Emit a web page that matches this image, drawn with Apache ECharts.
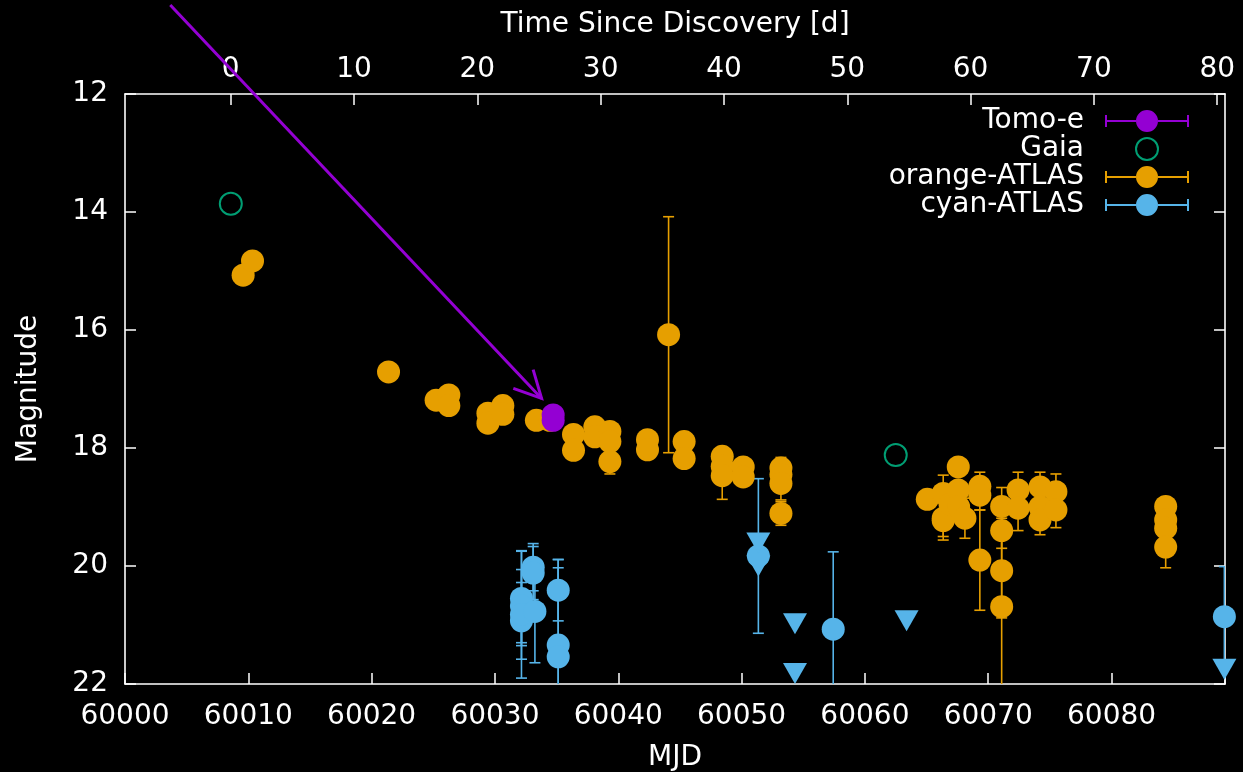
<!DOCTYPE html>
<html><head><meta charset="utf-8">
<script src="https://cdn.jsdelivr.net/npm/echarts@6/dist/echarts.min.js"></script>
<style>html,body{margin:0;padding:0;background:#000}#c{width:1243px;height:772px}</style>
</head><body><div id="c"></div><script>
// ---- axes ----
const DISCOVERY_MJD = 60008.57;
const MJD_MIN = 60000, MJD_MAX = 60089.2, MJD_STEP = 10;
const MAG_MIN = 12, MAG_MAX = 22, MAG_STEP = 2;
const TOP_TICKS = [0, 10, 20, 30, 40, 50, 60, 70, 80];

// ---- data: [MJD, magnitude, error] ----
const tomoE = [[60034.72, 17.44, 0.03], [60034.72, 17.53, 0.03]];
const gaia = [[60008.58, 13.86], [60062.5, 18.12]];
const orangeATLAS = [
  [60009.58, 15.07, 0.05], [60010.34, 14.83, 0.05], [60021.37, 16.71, 0.05],
  [60025.23, 17.19, 0.05], [60026.26, 17.10, 0.05], [60026.26, 17.28, 0.05],
  [60029.43, 17.41, 0.06], [60029.43, 17.58, 0.06], [60030.64, 17.28, 0.06], [60030.64, 17.43, 0.06],
  [60033.36, 17.53, 0.07], [60034.45, 17.53, 0.07],
  [60036.37, 17.77, 0.08], [60036.37, 18.04, 0.08],
  [60038.10, 17.64, 0.08], [60038.10, 17.81, 0.08],
  [60039.32, 17.72, 0.08], [60039.32, 17.89, 0.08], [60039.32, 18.23, 0.21],
  [60042.37, 17.86, 0.10], [60042.37, 18.03, 0.10],
  [60044.08, 16.08, 2.00],
  [60045.34, 17.89, 0.10], [60045.34, 18.18, 0.10],
  [60048.43, 18.14, 0.12], [60048.43, 18.31, 0.12], [60048.43, 18.47, 0.40],
  [60050.13, 18.32, 0.12], [60050.13, 18.49, 0.12],
  [60053.19, 18.34, 0.18], [60053.19, 18.45, 0.12], [60053.19, 18.60, 0.28], [60053.19, 19.11, 0.20],
  [60065.06, 18.87, 0.10],
  [60066.35, 18.77, 0.31], [60066.35, 19.19, 0.31], [60066.35, 19.23, 0.33],
  [60066.90, 18.95, 0.20], [60067.57, 18.32, 0.10], [60067.57, 18.71, 0.10], [60067.60, 19.00, 0.20],
  [60068.11, 19.19, 0.34],
  [60069.32, 18.65, 0.24], [60069.32, 18.80, 0.25], [60069.32, 19.90, 0.85],
  [60071.09, 18.99, 0.32], [60071.09, 19.40, 0.30], [60071.09, 20.08, 0.80], [60071.09, 20.69, 1.50],
  [60072.42, 18.71, 0.30], [60072.42, 19.02, 0.38],
  [60074.20, 18.66, 0.25], [60074.20, 19.00, 0.20], [60074.20, 19.22, 0.25],
  [60075.49, 18.74, 0.30], [60075.49, 19.05, 0.30],
  [60084.39, 18.99, 0.15], [60084.39, 19.22, 0.15], [60084.39, 19.36, 0.15], [60084.39, 19.68, 0.35]
];
const cyanATLAS = [
  [60032.15, 20.55, 0.80], [60032.15, 20.68, 0.62], [60032.15, 20.93, 0.65], [60032.15, 20.82, 1.08],
  [60033.10, 20.02, 0.40], [60033.10, 20.12, 0.45], [60033.24, 20.77, 0.87],
  [60035.13, 20.41, 0.52], [60035.13, 21.34, 1.31], [60035.13, 21.54, 1.65],
  [60051.36, 19.83, 1.31], [60057.43, 21.07, 1.31], [60089.15, 20.86, 0.85]
];
const cyanLimits = [
  [60051.36, 19.61], [60051.36, 20.00], [60054.33, 20.98], [60054.33, 21.82],
  [60063.38, 20.93], [60089.15, 21.75]
];
const arrowLine = [[60003.67, 10.49, 60033.78, 17.16]];

// ---- style ----
const FONT = 'DejaVu Sans';
const FS = 28;
const C_PURPLE = '#9400D3', C_GREEN = '#009E73', C_ORANGE = '#E69F00', C_CYAN = '#56B4E9';
const WHITE = '#ffffff';
const ERR_ICON = 'path://M0,10H31V12H0Z M53,10H84V12H53Z M0,5H2V17H0Z M82,5H84V17H82Z M31,11A11,11 0 1 0 53,11A11,11 0 1 0 31,11Z';

function errSeries(name, data, color, z) {
  return {
    type: 'custom', name: name, data: data, z: z, clip: true, silent: true,
    encode: { x: 0, y: 1 },
    renderItem: function (params, api) {
      const x = api.value(0), y = api.value(1), e = api.value(2);
      const lo = api.coord([x, y - e]), hi = api.coord([x, y + e]);
      const hw = 5.5;
      const st = { stroke: color, lineWidth: 1.6 };
      return { type: 'group', children: [
        { type: 'line', shape: { x1: lo[0], y1: lo[1], x2: hi[0], y2: hi[1] }, style: st },
        { type: 'line', shape: { x1: lo[0] - hw, y1: lo[1], x2: lo[0] + hw, y2: lo[1] }, style: st },
        { type: 'line', shape: { x1: hi[0] - hw, y1: hi[1], x2: hi[0] + hw, y2: hi[1] }, style: st }
      ]};
    }
  };
}

const axisCommon = {
  axisLine: { show: true, onZero: false, lineStyle: { color: WHITE, width: 1.6 } },
  axisTick: { show: true, inside: true, length: 11, lineStyle: { color: WHITE, width: 1.5 } },
  splitLine: { show: false },
  nameTextStyle: { color: WHITE, fontSize: FS, fontFamily: FONT }
};

const chart = echarts.init(document.getElementById('c'), null, { renderer: 'canvas' });
chart.setOption({
  backgroundColor: '#000000',
  animation: false,
  grid: { left: 125, right: 18, top: 94, bottom: 88, containLabel: false, outerBoundsMode: 'none' },
  legend: {
    orient: 'vertical', right: 49, top: 102, align: 'right',
    itemWidth: 84, itemHeight: 22, itemGap: 0,
    textStyle: { color: WHITE, fontSize: FS, fontFamily: FONT, lineHeight: 28, padding: [0, 16, 0, 0] },
    data: [
      { name: 'Tomo-e', icon: ERR_ICON, itemStyle: { borderWidth: 0 } },
      { name: 'Gaia', icon: 'circle', itemStyle: { color: 'rgba(0,0,0,0)', borderColor: C_GREEN, borderWidth: 2 } },
      { name: 'orange-ATLAS', icon: ERR_ICON, itemStyle: { borderWidth: 0 } },
      { name: 'cyan-ATLAS', icon: ERR_ICON, itemStyle: { borderWidth: 0 } }
    ]
  },
  xAxis: [
    Object.assign({}, axisCommon, {
      type: 'value', position: 'bottom', min: MJD_MIN, max: MJD_MAX, interval: MJD_STEP,
      name: 'MJD', nameLocation: 'middle', nameGap: 60,
      axisLabel: { color: WHITE, fontSize: FS, fontFamily: FONT, margin: 19,
        formatter: function (v) { return Math.abs(v % MJD_STEP) < 1e-6 ? String(v) : ''; } }
    }),
    Object.assign({}, axisCommon, {
      type: 'value', position: 'top', min: MJD_MIN - DISCOVERY_MJD, max: MJD_MAX - DISCOVERY_MJD,
      name: 'Time Since Discovery [d]', nameLocation: 'middle', nameGap: 55,
      axisTick: Object.assign({}, axisCommon.axisTick, { customValues: TOP_TICKS }),
      axisLabel: { color: WHITE, fontSize: FS, fontFamily: FONT, margin: 10, customValues: TOP_TICKS }
    })
  ],
  yAxis: [
    Object.assign({}, axisCommon, {
      type: 'value', position: 'left', inverse: true, min: MAG_MIN, max: MAG_MAX, interval: MAG_STEP,
      name: 'Magnitude', nameLocation: 'middle', nameGap: 82, nameRotate: 90,
      axisLabel: { color: WHITE, fontSize: FS, fontFamily: FONT, margin: 17 }
    }),
    Object.assign({}, axisCommon, {
      type: 'value', position: 'right', inverse: true, min: MAG_MIN, max: MAG_MAX, interval: MAG_STEP,
      axisLabel: { show: false }
    })
  ],
  series: [
    errSeries('orange-ATLAS err', orangeATLAS, C_ORANGE, 2),
    { type: 'scatter', name: 'orange-ATLAS', data: orangeATLAS, symbol: 'circle', symbolSize: 23, z: 3, clip: false,
      itemStyle: { color: C_ORANGE, opacity: 1 } },
    errSeries('cyan-ATLAS err', cyanATLAS, C_CYAN, 2),
    { type: 'scatter', name: 'cyan-ATLAS', data: cyanATLAS, symbol: 'circle', symbolSize: 23, z: 3, clip: false,
      itemStyle: { color: C_CYAN, opacity: 1 } },
    { type: 'scatter', name: 'cyan-ATLAS limits', data: cyanLimits, symbol: 'triangle', symbolRotate: 180,
      symbolSize: [24, 21], z: 3, clip: false, itemStyle: { color: C_CYAN, opacity: 1 } },
    { type: 'scatter', name: 'Gaia', data: gaia, symbol: 'circle', symbolSize: 22, z: 5, clip: false,
      itemStyle: { color: 'rgba(0,0,0,0)', borderColor: C_GREEN, borderWidth: 2, opacity: 1 } },
    errSeries('Tomo-e err', tomoE, C_PURPLE, 4),
    { type: 'scatter', name: 'Tomo-e', data: tomoE, symbol: 'circle', symbolSize: 23, z: 5, clip: false,
      itemStyle: { color: C_PURPLE, opacity: 1 } },
    { type: 'custom', name: 'arrow', data: arrowLine, z: 6, clip: false, silent: true,
      encode: { x: [0, 2], y: [1, 3] },
      renderItem: function (params, api) {
        const a = api.coord([api.value(0), api.value(1)]);
        const b = api.coord([api.value(2), api.value(3)]);
        const ang = Math.atan2(a[1] - b[1], a[0] - b[0]);
        const L = 30, h = 27 * Math.PI / 180;
        const p1 = [b[0] + L * Math.cos(ang + h), b[1] + L * Math.sin(ang + h)];
        const p2 = [b[0] + L * Math.cos(ang - h), b[1] + L * Math.sin(ang - h)];
        const st = { stroke: C_PURPLE, lineWidth: 3, fill: null };
        return { type: 'group', children: [
          { type: 'line', shape: { x1: a[0], y1: a[1], x2: b[0], y2: b[1] }, style: st },
          { type: 'polyline', shape: { points: [p1, [b[0], b[1]], p2] }, style: st }
        ]};
      }
    }
  ]
});
</script></body></html>
